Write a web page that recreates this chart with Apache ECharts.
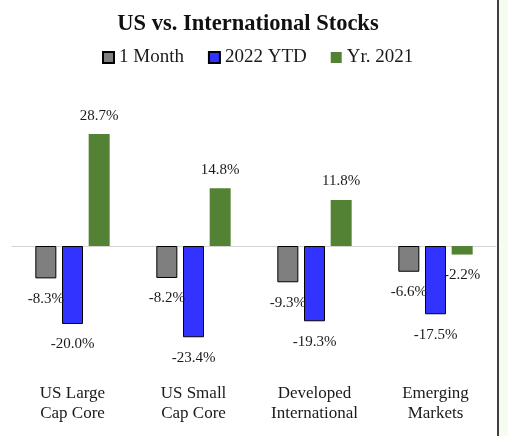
<!DOCTYPE html>
<html>
<head>
<meta charset="utf-8">
<style>
  html, body { margin: 0; padding: 0; background: #ffffff; }
  #chart { width: 508px; height: 436px; }
</style>
<script src="https://cdn.jsdelivr.net/npm/echarts@6/dist/echarts.min.js"></script>
</head>
<body>
<div id="chart"></div>
<script>
const categories = ['US Large\nCap Core', 'US Small\nCap Core', 'Developed\nInternational', 'Emerging\nMarkets'];
const seriesNames = ['1 Month', '2022 YTD', 'Yr. 2021'];
const oneMonth = [-8.3, -8.2, -9.3, -6.6];
const ytd2022 = [-20.0, -23.4, -19.3, -17.5];
const yr2021 = [28.7, 14.8, 11.8, -2.2];

const FONT = '"Liberation Serif", "Times New Roman", serif';
const colors = ['#7f7f7f', '#3333ff', '#548235'];
const borders = [true, true, false];
const values = [oneMonth, ytd2022, yr2021];

const chart = echarts.init(document.getElementById('chart'), null, { renderer: 'canvas' });

function labelCfg(v) {
  return {
    show: true,
    position: v >= 0 ? 'top' : 'bottom',
    fontFamily: FONT,
    fontSize: 15,
    color: '#1a1a1a',
    distance: v >= 0 ? 11 : 13,
    formatter: p => p.value.toFixed(1) + '%'
  };
}

const series = seriesNames.map((name, i) => ({
  name: name,
  type: 'bar',
  xAxisIndex: 0,
  barWidth: 21,
  barGap: '27%',
  itemStyle: {
    color: colors[i],
    borderColor: borders[i] ? '#000000' : colors[i],
    borderWidth: borders[i] ? 1 : 0
  },
  data: values[i].map(v => ({ value: v, label: labelCfg(v) }))
}));

chart.setOption({
  animation: false,
  backgroundColor: '#ffffff',
  title: {
    text: 'US vs. International Stocks',
    left: 243,
    textAlign: 'center',
    top: 8,
    textStyle: { fontFamily: FONT, fontSize: 22.5, fontWeight: 'bold', color: '#111111' }
  },
  legend: {
    data: seriesNames,
    top: 43,
    left: 97,
    icon: 'rect',
    itemWidth: 11,
    itemHeight: 11,
    itemGap: 24,
    textStyle: { fontFamily: FONT, fontSize: 19, color: '#1a1a1a' }
  },
  grid: { left: 12, width: 484, top: 90, height: 273, containLabel: false },
  xAxis: [
    {
      type: 'category',
      data: categories,
      axisLine: { show: true, onZero: true, lineStyle: { color: '#d4d4d4', width: 1 } },
      axisTick: { show: false },
      axisLabel: { show: false },
      z: 0
    },
    {
      type: 'category',
      data: categories,
      position: 'bottom',
      axisLine: { show: false, onZero: false },
      axisTick: { show: false },
      axisLabel: {
        show: true,
        margin: 21,
        fontFamily: FONT,
        fontSize: 17,
        lineHeight: 20,
        color: '#1a1a1a',
        interval: 0
      }
    }
  ],
  yAxis: {
    type: 'value',
    min: -30,
    max: 40,
    show: false,
    splitLine: { show: false }
  },
  series: series,
  graphic: [
    {
      type: 'rect',
      shape: { x: 497.5, y: 0, width: 11, height: 436 },
      style: { fill: '#f5fdf1' },
      silent: true
    },
    {
      type: 'line',
      shape: { x1: 498, y1: 0, x2: 498, y2: 436 },
      style: { stroke: '#000000', lineWidth: 1.5 },
      silent: true
    }
  ]
});
</script>
</body>
</html>
